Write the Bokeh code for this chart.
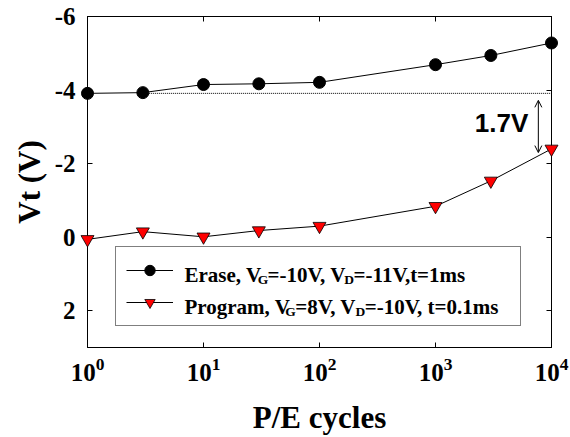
from bokeh.plotting import figure
from bokeh.models import (FixedTicker, LinearAxis, LogAxis, Legend, LegendItem,
                          Label, Arrow, OpenHead)
from bokeh.core.properties import value
from bokeh.embed import file_html
from bokeh.resources import INLINE

# ---- data -------------------------------------------------------------
cycles = [1, 3, 10, 30, 100, 1000, 3000, 10000]
erase_vt = [-3.91, -3.93, -4.15, -4.17, -4.21, -4.69, -4.94, -5.28]
program_vt = [0.06, -0.15, -0.01, -0.18, -0.30, -0.84, -1.53, -2.40]

y_ticks = [-6, -4, -2, 0, 2]
y_tick_labels = ["-6", "-4", "-2", "0", "2"]

# legend texts, split into (text, is_subscript) runs
erase_label = [("Erase, V", False), ("G", True), ("=-10V, V", False),
               ("D", True), ("=-11V,t=1ms", False)]
program_label = [("Program, V", False), ("G", True), ("=8V, V", False),
                 ("D", True), ("=-10V, t=0.1ms", False)]

gap_text = "1.7V"
gap_arrow_x = 7700
gap_arrow_y = (-3.72, -2.30)

# ---- styling ----------------------------------------------------------
SERIF = "Liberation Serif"
SANS = "Liberation Sans"
W, H = 570, 437
BORDER_L, BORDER_R, BORDER_T, BORDER_B = 87, 19, 16, 88

# Times-Bold advance widths (1/1000 em), used to lay out the legend runs
TB_WIDTHS = {
    " ": 250, ",": 250, "-": 333, ".": 250, "=": 570,
    "0": 500, "1": 500, "2": 500, "3": 500, "4": 500, "5": 500,
    "6": 500, "7": 500, "8": 500, "9": 500,
    "D": 722, "E": 667, "G": 778, "P": 611, "V": 722,
    "a": 500, "e": 444, "g": 500, "m": 833, "o": 500, "r": 444,
    "s": 389, "t": 333,
}
WIDTH_SCALE = 0.95


def text_width(s, size):
    return WIDTH_SCALE * sum(TB_WIDTHS.get(ch, 500) for ch in s) * size / 1000.0


p = figure(width=W, height=H, x_axis_type="log", x_range=(1, 1e4),
           y_range=(3, -6), output_backend="svg", toolbar_location=None,
           min_border_left=BORDER_L, min_border_right=BORDER_R,
           min_border_top=BORDER_T, min_border_bottom=BORDER_B,
           background_fill_color="white", border_fill_color="white")
p.xgrid.visible = False
p.ygrid.visible = False
p.outline_line_color = "black"
p.outline_line_width = 1

xax = p.below[0]
yax = p.left[0]
yax.ticker = FixedTicker(ticks=y_ticks)
yax.major_label_overrides = dict(zip(y_ticks, y_tick_labels))

for ax in (xax, yax):
    ax.axis_line_color = "black"
    ax.major_tick_in = 5
    ax.major_tick_out = 0
    ax.minor_tick_in = 0
    ax.minor_tick_out = 0
    ax.minor_tick_line_color = None
    ax.major_label_text_font = SERIF
    ax.major_label_text_font_style = "bold"
    ax.major_label_text_font_size = "25px"
    ax.major_label_text_color = "black"
    ax.axis_label_text_font = SERIF
    ax.axis_label_text_font_style = "bold"
    ax.axis_label_text_font_size = "31px"
    ax.axis_label_text_color = "black"

xax.axis_label = "P/E cycles"
xax.major_label_standoff = 10
xax.axis_label_standoff = 16
yax.axis_label = "Vt (V)"
yax.major_label_standoff = 12
yax.axis_label_standoff = 5

# mirrored tick marks on the top and right edges (labels hidden)
top_ax = LogAxis(major_label_text_font_size="6px", major_label_text_alpha=0,
                 major_label_standoff=0, major_tick_in=5, major_tick_out=0,
                 minor_tick_line_color=None, axis_line_color="black")
right_ax = LinearAxis(ticker=FixedTicker(ticks=y_ticks),
                      major_label_text_font_size="6px", major_label_text_alpha=0,
                      major_label_standoff=0, major_tick_in=5, major_tick_out=0,
                      minor_tick_line_color=None, axis_line_color="black")
p.add_layout(top_ax, "above")
p.add_layout(right_ax, "right")

# ---- series -----------------------------------------------------------
ref_line = p.line([cycles[1], cycles[-1]], [erase_vt[0], erase_vt[0]],
                  line_color="black", line_width=1, line_dash="1 1")

erase_line = p.line(cycles, erase_vt, line_color="black", line_width=1)
erase_pts = p.scatter(cycles, erase_vt, marker="circle", size=12,
                      fill_color="black", line_color="black")
prog_line = p.line(cycles, program_vt, line_color="black", line_width=1)
prog_pts = p.scatter(cycles, program_vt, marker="inverted_triangle", size=13,
                     fill_color="red", line_color="black", line_width=0.8)

# keep edge markers whole instead of clipped by the frame
for r in (erase_line, erase_pts, prog_line, prog_pts):
    r.level = "annotation"

# ---- gap annotation ---------------------------------------------------
p.add_layout(Arrow(start=OpenHead(size=7, line_width=1),
                   end=OpenHead(size=7, line_width=1),
                   x_start=gap_arrow_x, y_start=gap_arrow_y[0],
                   x_end=gap_arrow_x, y_end=gap_arrow_y[1],
                   line_color="black", line_width=1))
p.add_layout(Label(x=gap_arrow_x, y=sum(gap_arrow_y) / 2, x_offset=-10,
                   y_offset=3, text=gap_text, text_align="right",
                   text_baseline="middle", text_font=SANS,
                   text_font_style="bold", text_font_size="26px",
                   text_color="black"))

# ---- legend: box and glyphs from Legend, rich text from Labels ----------
legend = Legend(items=[LegendItem(label=value(" "), renderers=[erase_line, erase_pts]),
                       LegendItem(label=value(" "), renderers=[prog_line, prog_pts])],
                location=(28, 21), orientation="vertical", padding=10,
                spacing=6, glyph_width=47, glyph_height=26, label_height=26,
                label_width=325, label_standoff=12, margin=0,
                border_line_color="black", border_line_width=1,
                background_fill_alpha=0, label_text_font_size="10px")
p.add_layout(legend)

MAIN_SIZE, SUB_SIZE, SUB_DROP = 21, 13.5, 5


def rich_text(runs, x0, baseline):
    x = x0
    for txt, sub in runs:
        size = SUB_SIZE if sub else MAIN_SIZE
        p.add_layout(Label(x=x, y=baseline - (SUB_DROP if sub else 0),
                           x_units="screen", y_units="screen", text=txt,
                           text_align="left", text_baseline="alphabetic",
                           text_font=SERIF, text_font_style="bold",
                           text_font_size=f"{size}px", text_color="black"))
        x += text_width(txt, size)


rich_text(erase_label, 97, 73)
rich_text(program_label, 97, 41)

open("out.html", "w").write(file_html(p, INLINE))
